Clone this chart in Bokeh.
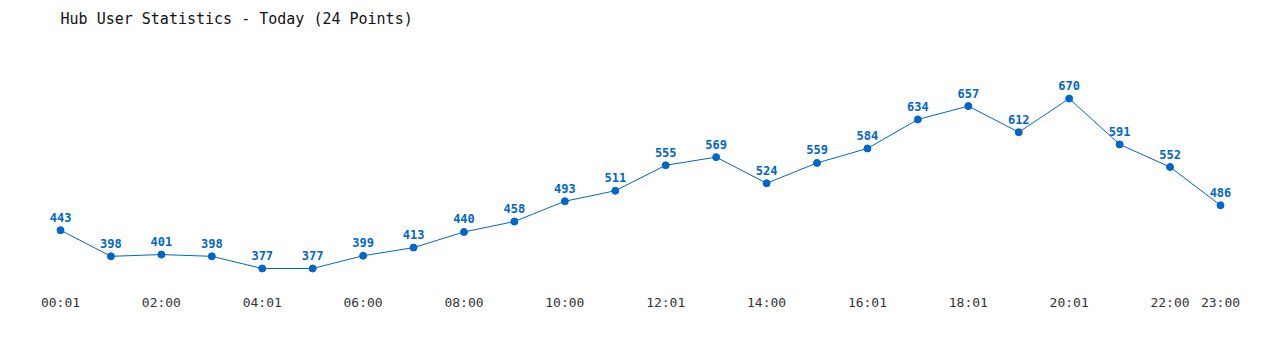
from bokeh.plotting import figure
from bokeh.models import ColumnDataSource, Label, FixedTicker, Range1d
from bokeh.core.properties import value
from bokeh.embed import file_html
from bokeh.resources import INLINE

# Data
hours = list(range(24))
users = [443, 398, 401, 398, 377, 377, 399, 413, 440, 458, 493, 511,
         555, 569, 524, 559, 584, 634, 657, 612, 670, 591, 552, 486]
tick_positions = [0, 2, 4, 6, 8, 10, 12, 14, 16, 18, 20, 22, 23]
tick_labels = ["00:01", "02:00", "04:01", "06:00", "08:00", "10:00", "12:01",
               "14:00", "16:01", "18:01", "20:01", "22:00", "23:00"]
title_text = "Hub User Statistics - Today (24 Points)"

COLOR = "#0066cc"
FONT = "DejaVu Sans Mono"

src = ColumnDataSource(dict(x=hours, y=users, t=[str(v) for v in users]))

p = figure(width=1280, height=350, output_backend="svg", toolbar_location=None,
           x_range=Range1d(-1.19, 24.19), y_range=Range1d(349.4, 839.1),
           min_border_left=0, min_border_right=0, min_border_top=0,
           min_border_bottom=66)
p.outline_line_color = None
p.background_fill_color = "white"
p.border_fill_color = "white"
p.xgrid.visible = False
p.ygrid.visible = False
p.yaxis.visible = False

p.line("x", "y", source=src, line_color=COLOR, line_width=1)
p.scatter("x", "y", source=src, size=7, fill_color=COLOR, line_color=COLOR)

p.text("x", "y", text="t", source=src, y_offset=-13,
       text_align="center", text_baseline="middle",
       text_font=value(FONT), text_font_size="12px", text_font_style="bold",
       text_color=COLOR)

ax = p.xaxis[0]
ax.ticker = FixedTicker(ticks=tick_positions)
ax.major_label_overrides = {t: l for t, l in zip(tick_positions, tick_labels)}
ax.axis_line_color = None
ax.major_tick_line_color = None
ax.minor_tick_line_color = None
ax.major_label_text_font = FONT
ax.major_label_text_font_size = "13px"
ax.major_label_text_color = "#333333"
ax.major_label_standoff = 4

title = Label(x=0, y=808, text=title_text, text_font=FONT, text_font_size="15px",
              text_baseline="middle", text_align="left", text_color="#111111")
p.add_layout(title)

open("out.html", "w").write(file_html(p, INLINE))
